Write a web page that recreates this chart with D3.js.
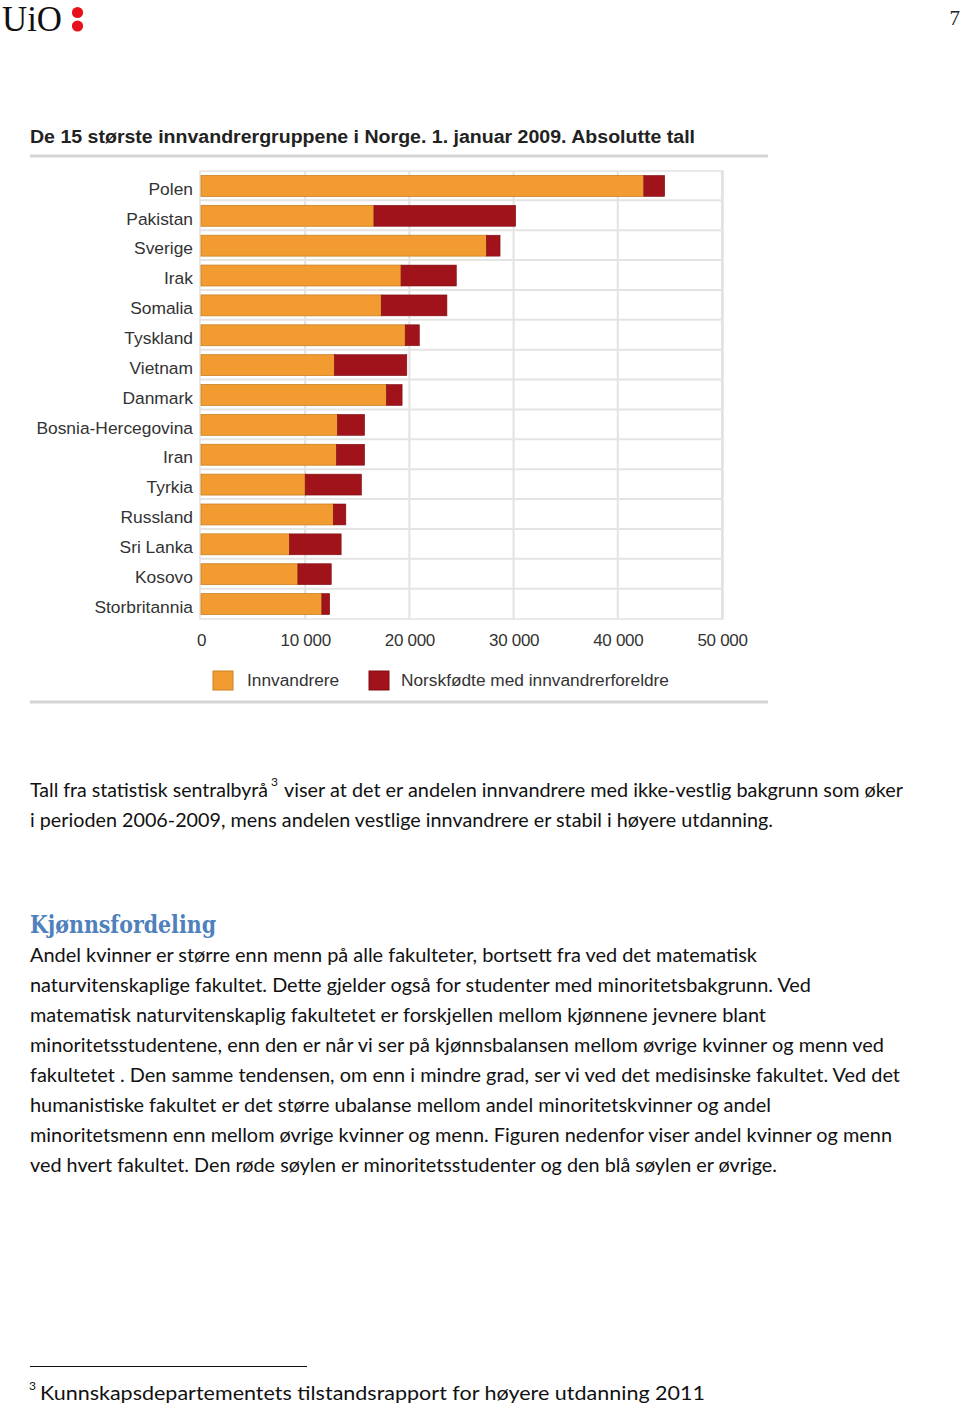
<!DOCTYPE html>
<html>
<head>
<meta charset="utf-8">
<script src="https://d3js.org/d3.v7.min.js"></script>
<style>
html,body{margin:0;padding:0;background:#fff;}
svg{display:block;}
</style>
</head>
<body>
<script>
// ---- Data ----
const countries = ["Polen","Pakistan","Sverige","Irak","Somalia","Tyskland","Vietnam","Danmark","Bosnia-Hercegovina","Iran","Tyrkia","Russland","Sri Lanka","Kosovo","Storbritannia"];
const innvandrere = [42500,16600,27400,19200,17300,19600,12800,17800,13100,13000,10000,12700,8500,9300,11600];
const norskfodte = [2000,13600,1300,5300,6300,1350,6950,1500,2600,2700,5400,1200,4950,3200,750];
const xTicks = [0,10000,20000,30000,40000,50000];
const seriesNames = ["Innvandrere","Norskfødte med innvandrerforeldre"];
const chartTitle = "De 15 største innvandrergruppene i Norge. 1. januar 2009. Absolutte tall";

const para1 = [
  {t:"Tall fra statistisk sentralbyrå", x0:30, x1:268},
  {t:"viser at det er andelen innvandrere med ikke-vestlig bakgrunn som øker", x0:284, x1:903}
];
const para1b = {t:"i perioden 2006-2009, mens andelen vestlige innvandrere er stabil i høyere utdanning.", x1:773};
const heading = "Kjønnsfordeling";
const bodyLines = [
  ["Andel kvinner er større enn menn på alle fakulteter, bortsett fra ved det matematisk",757],
  ["naturvitenskaplige fakultet. Dette gjelder også for studenter med minoritetsbakgrunn. Ved",811],
  ["matematisk naturvitenskaplig fakultetet er forskjellen mellom kjønnene jevnere blant",766],
  ["minoritetsstudentene, enn den er når vi ser på kjønnsbalansen mellom øvrige kvinner og menn ved",884],
  ["fakultetet . Den samme tendensen, om enn i mindre grad, ser vi ved det medisinske fakultet. Ved det",900],
  ["humanistiske fakultet er det større ubalanse mellom andel minoritetskvinner og andel",771],
  ["minoritetsmenn enn mellom øvrige kvinner og menn. Figuren nedenfor viser andel kvinner og menn",892],
  ["ved hvert fakultet. Den røde søylen er minoritetsstudenter og den blå søylen er øvrige.",777]
];
const footnote = "Kunnskapsdepartementets tilstandsrapport for høyere utdanning 2011";

// ---- Page ----
const W = 960, H = 1405;
const svg = d3.select("body").append("svg").attr("width", W).attr("height", H);
svg.append("rect").attr("width", W).attr("height", H).attr("fill", "#fff");

// Header
svg.append("text").attr("x", 2).attr("y", 31)
  .attr("font-family", "Liberation Serif, serif").attr("font-size", 35).attr("fill", "#111")
  .attr("textLength", 60).attr("lengthAdjust", "spacingAndGlyphs").text("UiO");
[12.5, 26].forEach(cy => svg.append("circle").attr("cx", 77.5).attr("cy", cy).attr("r", 5.6).attr("fill", "#e8101a"));
svg.append("text").attr("x", 960).attr("y", 25).attr("text-anchor", "end")
  .attr("font-family", "Liberation Serif, serif").attr("font-size", 21).attr("fill", "#222").text("7");

// ---- Chart ----
const sans = "Liberation Sans, Arial, sans-serif";
const orange = "#f29b31", red = "#a0131b";
const lfs = 17.4;

svg.append("text").attr("x", 30).attr("y", 143).attr("font-family", sans).attr("font-weight", "bold")
  .attr("font-size", 18).attr("fill", "#222").attr("textLength", 665).attr("lengthAdjust", "spacingAndGlyphs")
  .text(chartTitle);
svg.append("line").attr("x1", 30).attr("x2", 768).attr("y1", 156).attr("y2", 156)
  .attr("stroke", "#d4d4d4").attr("stroke-width", 3);
svg.append("line").attr("x1", 30).attr("x2", 768).attr("y1", 702).attr("y2", 702)
  .attr("stroke", "#d4d4d4").attr("stroke-width", 3);

const x = d3.scaleLinear().domain([0, 50000]).range([201, 722]);
const y = d3.scaleBand().domain(countries).range([171, 619]).paddingInner(0.3).paddingOuter(0.15);

const g = svg.append("g");
g.append("rect").attr("x", 200).attr("y", 171).attr("width", 523).attr("height", 448)
  .attr("fill", "#fff").attr("stroke", "#e2e2e2").attr("stroke-width", 1.5);
g.selectAll(".vg").data(xTicks.slice(1)).join("line")
  .attr("x1", d => x(d)).attr("x2", d => x(d)).attr("y1", 171).attr("y2", 619)
  .attr("stroke", "#e2e2e2").attr("stroke-width", 2);
const gap = y.step() - y.bandwidth();
g.selectAll(".hg").data(countries.slice(1)).join("line")
  .attr("x1", 200).attr("x2", 723)
  .attr("y1", d => y(d) - gap / 2 - 0.5)
  .attr("y2", d => y(d) - gap / 2 - 0.5)
  .attr("stroke", "#e4e4e4").attr("stroke-width", 2);

g.selectAll(".bo").data(countries).join("rect")
  .attr("x", x(0)).attr("y", d => y(d))
  .attr("width", (d, i) => x(innvandrere[i]) - x(0)).attr("height", y.bandwidth())
  .attr("fill", orange).attr("stroke", "#c98224").attr("stroke-width", 0.8);
g.selectAll(".br").data(countries).join("rect")
  .attr("x", (d, i) => x(innvandrere[i])).attr("y", d => y(d))
  .attr("width", (d, i) => x(innvandrere[i] + norskfodte[i]) - x(innvandrere[i])).attr("height", y.bandwidth())
  .attr("fill", red).attr("stroke", "#7e0e14").attr("stroke-width", 0.6);

const yAxis = d3.axisLeft(y).tickSize(0).tickPadding(7);
const ya = svg.append("g").attr("transform", "translate(200,0)").call(yAxis);
ya.select(".domain").remove();
ya.selectAll("text").attr("font-family", sans).attr("font-size", lfs).attr("fill", "#333")
  .attr("dy", "0.5em");

const fmt = d => d === 0 ? "0" : d3.format(",")(d).replace(/,/g, " ");
const xAxis = d3.axisBottom(x).tickValues(xTicks).tickSize(0).tickPadding(0).tickFormat(fmt);
const xa = svg.append("g").attr("transform", "translate(0,636)").call(xAxis);
xa.select(".domain").remove();
xa.selectAll("text").attr("font-family", sans).attr("font-size", 17).attr("fill", "#333")
  .attr("letter-spacing", "-0.3px").attr("dy", "0.6em");

const leg = [{n: seriesNames[0], c: orange, s: "#c98224", x: 213, tx: 247},
             {n: seriesNames[1], c: red, s: "#7e0e14", x: 369, tx: 401}];
leg.forEach(l => {
  svg.append("rect").attr("x", l.x).attr("y", 671).attr("width", 20).attr("height", 19)
    .attr("fill", l.c).attr("stroke", l.s).attr("stroke-width", 1);
  svg.append("text").attr("x", l.tx).attr("y", 686).attr("font-family", sans).attr("font-size", 17.3)
    .attr("fill", "#333").text(l.n);
});

// ---- Body text ----
const body = "Lato, 'Open Sans', sans-serif";
const fs = 19.5;
function line(txt, x0, x1, yb) {
  svg.append("text").attr("x", x0).attr("y", yb).attr("font-family", body).attr("font-size", fs)
    .attr("fill", "#111").attr("textLength", x1 - x0).attr("lengthAdjust", "spacingAndGlyphs").text(txt);
}
line(para1[0].t, para1[0].x0, para1[0].x1, 797);
svg.append("text").attr("x", 271).attr("y", 786).attr("font-family", body).attr("font-size", 12).attr("fill", "#111").text("3");
line(para1[1].t, para1[1].x0, para1[1].x1, 797);
line(para1b.t, 30, para1b.x1, 827);

svg.append("text").attr("x", 30).attr("y", 933).attr("font-family", "DejaVu Serif, serif").attr("font-weight", "bold")
  .attr("font-size", 24).attr("fill", "#4f81bd").attr("textLength", 186).attr("lengthAdjust", "spacingAndGlyphs").text(heading);
bodyLines.forEach((l, i) => line(l[0], 30, l[1], 962 + i * 30));

svg.append("line").attr("x1", 30).attr("x2", 307).attr("y1", 1366.5).attr("y2", 1366.5).attr("stroke", "#111").attr("stroke-width", 1);
svg.append("text").attr("x", 29).attr("y", 1390).attr("font-family", body).attr("font-size", 12).attr("fill", "#111").text("3");
line(footnote, 40, 705, 1400);
</script>
</body>
</html>
